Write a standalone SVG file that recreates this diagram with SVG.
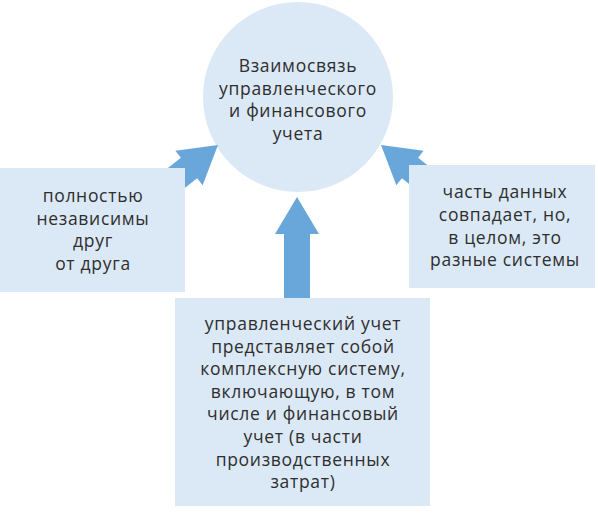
<svg xmlns="http://www.w3.org/2000/svg" width="598" height="516" viewBox="0 0 598 516">
<style>
.box{fill:#dbe9f6;}
.arrow{fill:#69a7db;}
text{font-family:"Open Sans","DejaVu Sans",sans-serif;font-size:17.5px;fill:#2e2e2e;text-anchor:middle;letter-spacing:0.7px;}
</style>
<defs>
<polygon id="arr" points="0,0 22,37 13,37 13,101 -13,101 -13,37 -22,37"/>
</defs>
<rect width="598" height="516" fill="#fff"/>
<g id="center">
<circle cx="298" cy="97" r="95" fill="#dbe9f6"/>
<text x="298" y="72">Взаимосвязь</text>
<text x="298" y="94.5">управленческого</text>
<text x="298" y="117">и финансового</text>
<text x="298" y="139.5">учета</text>
</g>
<g id="connectors">
<use href="#arr" class="arrow" transform="translate(297,197)"/>
<use href="#arr" class="arrow" transform="translate(218,145) rotate(51.6)"/>
<use href="#arr" class="arrow" transform="translate(381,145) rotate(-51.6)"/>
</g>
<g id="left">
<rect class="box" x="0" y="168" width="185" height="124"/>
<text x="93" y="202">полностью</text>
<text x="93" y="224.5">независимы</text>
<text x="93" y="247">друг</text>
<text x="93" y="269.5">от друга</text>
</g>
<g id="right">
<rect class="box" x="409" y="165" width="186" height="123"/>
<text x="505" y="198">часть данных</text>
<text x="505" y="221">совпадает, но,</text>
<text x="505" y="243.5">в целом, это</text>
<text x="505" y="266">разные системы</text>
</g>
<g id="bottom">
<rect class="box" x="175" y="298" width="255" height="208"/>
<text x="303" y="330">управленческий учет</text>
<text x="303" y="352.6">представляет собой</text>
<text x="303" y="375.2">комплексную систему,</text>
<text x="303" y="397.8">включающую, в том</text>
<text x="303" y="420.4">числе и финансовый</text>
<text x="303" y="443">учет (в части</text>
<text x="303" y="465.6">производственных</text>
<text x="303" y="488.2">затрат)</text>
</g>
</svg>
